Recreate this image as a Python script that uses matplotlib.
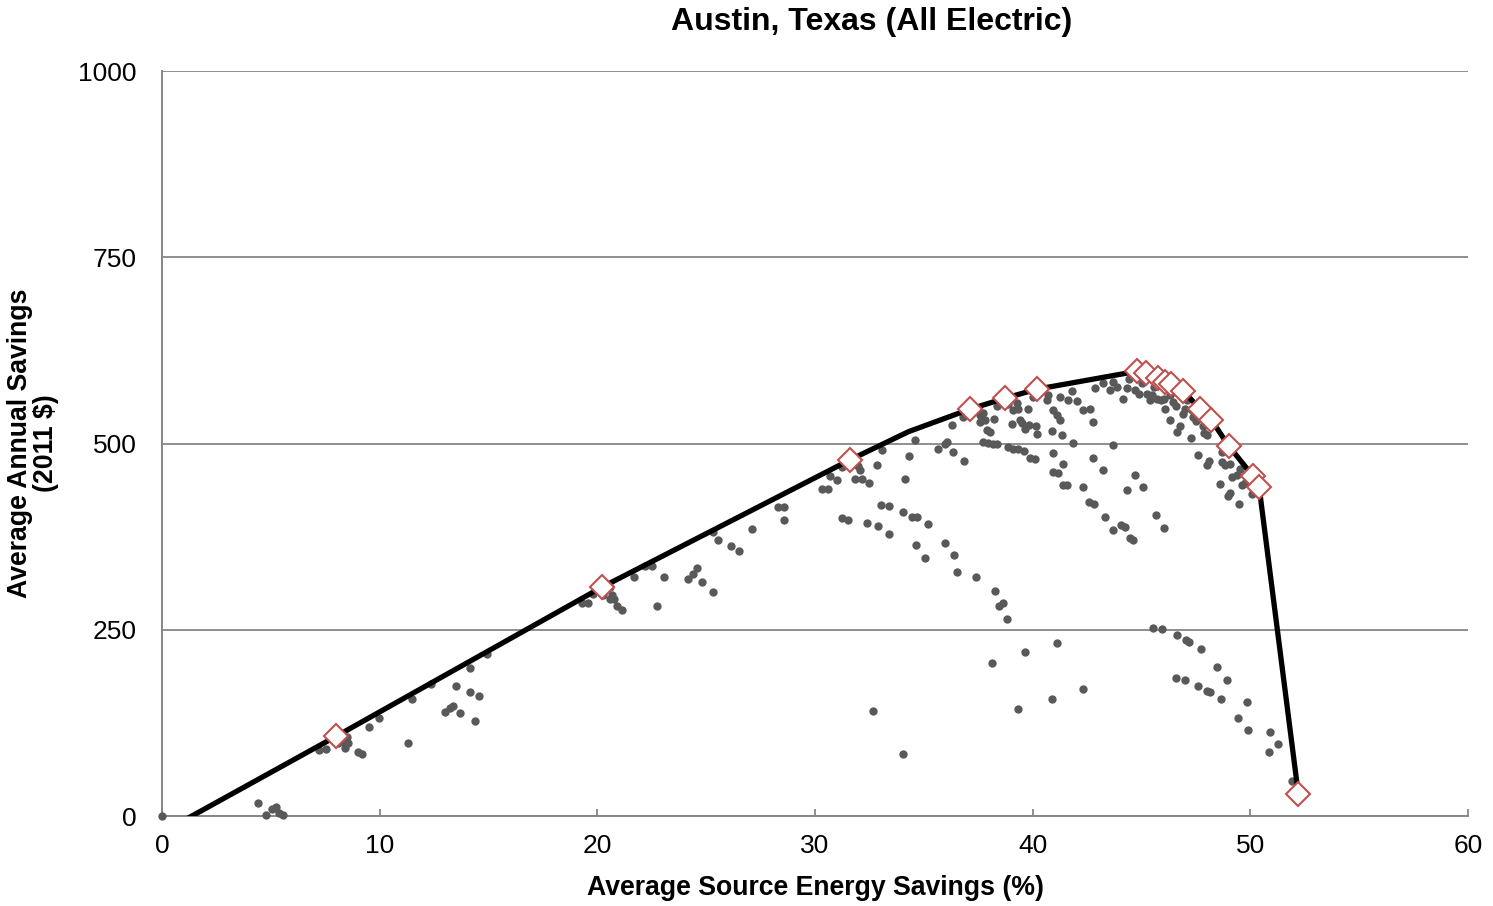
"""
Austin, Texas (All Electric) - savings vs. source energy savings,
with the least-cost frontier and its highlighted optimal points.
Output: out.png (1493x906)
"""

import matplotlib
matplotlib.use("Agg")
import matplotlib.pyplot as plt

# ── data ──────────────────────────────────────────────────────────────────
scatter_x = [
    0, 4.42, 4.78, 5.04, 5.24, 5.39, 5.57, 7.2, 7.52, 8.1, 8.4, 8.48, 8.4, 8.56,
    9.02, 9.2, 9.5, 9.95, 11.3, 11.5, 12.34, 13.0, 13.23, 13.38, 13.5, 13.7,
    14.13, 14.15, 14.4, 14.58, 14.95,
    19.28, 19.59, 19.82, 20.27, 20.58, 20.66, 20.58, 20.77, 20.92, 21.12, 21.68,
    22.2, 22.5, 22.76, 23.06, 24.18, 24.41, 24.56, 24.79, 25.33, 25.33, 25.53,
    26.12, 26.52, 27.1, 28.29, 28.58, 28.58, 30.31, 30.61, 30.69, 31.02, 31.22,
    31.22, 31.53,
    31.84, 32.07, 31.99, 32.14, 32.49, 32.83, 33.06, 32.4, 32.91, 33.4, 33.02,
    33.41, 34.06, 34.46, 34.7, 35.2, 34.64, 35.05, 35.97, 36.4, 36.54, 37.4,
    34.13, 34.33, 34.59, 35.66, 35.97, 36.08, 36.32, 36.86, 36.28, 36.81, 37.58,
    37.7, 37.81, 37.58, 37.89, 38.04, 38.2, 38.35, 37.7, 37.96, 38.16, 38.37,
    38.88, 39.11, 39.26, 39.34, 39.06, 39.42, 39.5, 39.65, 39.77, 39.84, 40.03,
    40.15, 40.18, 38.88, 39.11, 39.34, 39.6, 39.87, 40.1, 40.64, 40.72, 40.87,
    40.95, 41.1, 41.25, 41.33, 40.95, 41.41, 41.84, 41.25, 41.64, 41.79, 42.02,
    42.32, 42.63, 42.79, 42.86, 42.79, 40.95, 41.15, 41.38, 41.56, 42.32, 42.6,
    42.82,
    43.24, 43.55, 43.7, 43.86, 44.13, 44.35, 44.44, 44.7, 44.9, 45.0, 45.39,
    45.46, 45.69, 45.88, 45.58, 46.1, 46.3, 46.3, 46.46, 46.77, 46.64, 47.0,
    47.07, 47.26, 47.38, 47.58, 47.84, 47.87, 48.0, 48.0, 48.11, 48.68, 48.84,
    49.07, 49.15, 49.38, 48.6, 48.99, 49.07, 49.49, 49.75, 50.06, 49.52, 46.03,
    45.27, 43.67, 43.24, 44.7, 44.32, 45.08, 43.31, 43.7, 44.04, 44.24, 44.47,
    44.62, 45.66, 46.03, 48.68, 49.6, 46.6, 47.3, 47.5, 46.9,
    38.28, 38.65, 38.47, 38.82, 38.13, 39.66, 41.13, 39.34, 40.87, 42.33, 32.65,
    34.06,
    45.52, 45.93, 46.64, 47.04, 47.2, 47.72, 48.48, 48.94, 46.57, 46.98, 47.58,
    48.0, 48.15, 48.64, 49.86, 49.45, 49.88, 50.9, 51.25, 50.86, 51.9,
]
scatter_y = [
    0, 18, 1, 9, 12, 4, 1, 89, 90, 98, 98, 106, 91, 98,
    86, 83, 120, 131, 98, 157, 177, 139, 145, 148, 174, 138,
    199, 166, 127, 161, 217,
    286, 286, 298, 297, 308, 297, 291, 291, 282, 277, 321,
    336, 336, 282, 321, 318, 325, 333, 314, 301, 381, 370,
    362, 356, 385, 415, 415, 397, 439, 439, 457, 451, 469,
    400, 398,
    452, 464, 470, 452, 447, 471, 491, 394, 389, 379, 418,
    416, 408, 402, 402, 392, 364, 347, 367, 351, 327, 321,
    453, 483, 505, 492, 500, 502, 489, 477, 525, 536, 538,
    541, 532, 529, 518, 515, 533, 550, 502, 501, 500, 499,
    553, 545, 554, 547, 526, 532, 527, 520, 547, 525, 563,
    523, 513, 496, 493, 492, 490, 481, 479, 558, 565, 517,
    545, 538, 532, 511, 487, 472, 501, 563, 558, 571, 557,
    545, 546, 529, 575, 480, 462, 460, 445, 444, 441, 421,
    419,
    581, 572, 583, 576, 560, 574, 587, 572, 567, 581, 559,
    565, 560, 558, 576, 547, 532, 565, 556, 523, 516, 547,
    558, 507, 536, 485, 523, 514, 512, 471, 476, 488, 471,
    473, 455, 458, 446, 430, 434, 419, 447, 432, 466, 560,
    567, 498, 464, 458, 438, 442, 401, 384, 391, 388, 373,
    371, 404, 387, 475, 444, 550, 545, 530, 540,
    302, 286, 282, 265, 206, 220, 232, 144, 157, 170, 141,
    83,
    252, 251, 243, 236, 234, 224, 200, 183, 185, 183, 175,
    168, 166, 157, 153, 132, 116, 113, 97, 86, 47,
]

frontier_x = [1.0, 8.0, 20.2, 31.6, 34.3, 37.1, 38.75, 40.2, 44.8, 45.2, 45.75,
              46.1, 46.35, 46.9, 47.7, 48.2, 49.0, 50.1, 50.4, 52.2]
frontier_y = [-6, 107, 307, 478, 516, 546, 561, 573, 597, 595, 588,
              583, 580, 571, 546, 532, 497, 457, 442, 30]

optimal_x = [8.0, 20.2, 31.6, 37.1, 38.75, 40.2, 44.8, 45.2, 45.75,
             46.1, 46.35, 46.9, 47.7, 48.2, 49.0, 50.1, 50.4, 52.2]
optimal_y = [107, 307, 478, 546, 561, 573, 597, 595, 588,
             583, 580, 571, 546, 532, 497, 457, 442, 30]

x_ticks = [0, 10, 20, 30, 40, 50, 60]
y_ticks = [0, 250, 500, 750, 1000]

# ── style ─────────────────────────────────────────────────────────────────
DOT_CLR  = "#595959"
AXIS_CLR = "#868686"
DIAM_CLR = "#C0504D"
plt.rcParams["font.family"] = ["Liberation Sans", "DejaVu Sans"]

# ── figure ────────────────────────────────────────────────────────────────
fig = plt.figure(figsize=(14.93, 9.06), dpi=100, facecolor="white")
ax = fig.add_axes([0.1085, 0.0993, 0.8748, 0.8223])

# dots are not clipped so the (0, 0) point shows in full at the corner
ax.scatter(scatter_x, scatter_y, s=36, color=DOT_CLR, linewidths=0, zorder=3,
           clip_on=False)
ax.plot(frontier_x, frontier_y, color="black", linewidth=3.8, zorder=4,
        solid_joinstyle="round")
ax.plot(optimal_x, optimal_y, linestyle="none", marker="D", markersize=12.5,
        markerfacecolor="white", markeredgecolor=DIAM_CLR,
        markeredgewidth=1.5, zorder=5)

ax.set_xlim(0, 60)
ax.set_ylim(0, 1000)
ax.set_xticks(x_ticks)
ax.set_yticks(y_ticks)

ax.grid(axis="y", color=AXIS_CLR, linewidth=1.3, zorder=0)
ax.set_axisbelow(True)
for side in ("top", "right"):
    ax.spines[side].set_visible(False)
for side in ("left", "bottom"):
    ax.spines[side].set_color(AXIS_CLR)
    ax.spines[side].set_linewidth(1.4)

ax.tick_params(axis="x", direction="in", length=5, width=1.3,
               color=AXIS_CLR, labelsize=19, pad=13)
ax.tick_params(axis="y", length=0, labelsize=19, pad=18)

ax.set_xlabel("Average Source Energy Savings (%)", fontsize=19.2,
              fontweight="bold", labelpad=12)
ax.set_ylabel("Average Annual Savings\n(2011 $)", fontsize=19.2,
              fontweight="bold", labelpad=14, linespacing=1.0)

fig.text(0.584, 0.976, "Austin, Texas (All Electric)", fontsize=23,
         fontweight="bold", ha="center", va="center")

fig.savefig("out.png", dpi=100, facecolor="white")
